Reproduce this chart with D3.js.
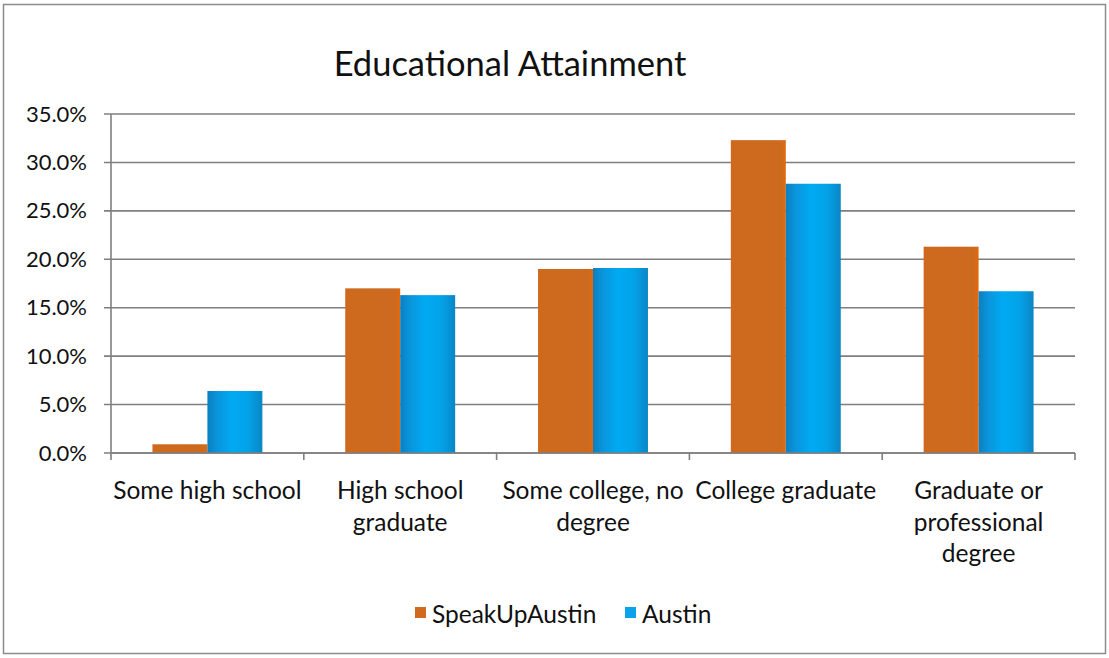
<!DOCTYPE html>
<html>
<head>
<meta charset="utf-8">
<script src="https://cdn.jsdelivr.net/npm/d3@7"></script>
<style>
  html, body { margin: 0; padding: 0; background: #fff; }
  svg { display: block; }
  text { font-family: "Lato", "Open Sans", sans-serif; fill: #111; }
</style>
</head>
<body>
<svg id="chart" width="1109" height="658"></svg>
<script>
// Educational attainment shares, survey respondents vs. city population
const categories = [
  ["Some high school"],
  ["High school", "graduate"],
  ["Some college, no", "degree"],
  ["College graduate"],
  ["Graduate or", "professional", "degree"]
];
const seriesNames = ["SpeakUpAustin", "Austin"];
const speakUpAustin = [0.9, 17.0, 19.0, 32.3, 21.3];
const austin = [6.4, 16.3, 19.1, 27.8, 16.7];
const yTicks = [0, 5, 10, 15, 20, 25, 30, 35];

const svg = d3.select("#chart");
const W = 1109, H = 658;
const m = { left: 111, right: 1075, top: 114, bottom: 453 };

// outer frame
svg.append("rect")
  .attr("x", 3.5).attr("y", 4.5)
  .attr("width", W - 7).attr("height", H - 9)
  .attr("fill", "#fff").attr("stroke", "#8c8c8c").attr("stroke-width", 1.5);

const defs = svg.append("defs");
const blueGrad = defs.append("linearGradient").attr("id", "blueGrad")
  .attr("x1", "0%").attr("x2", "100%").attr("y1", "0%").attr("y2", "0%");
[["0%", "#0b7fbf"], ["18%", "#0a95dc"], ["45%", "#00aaf2"], ["75%", "#03a2e8"], ["100%", "#0a86c6"]]
  .forEach(([o, c]) => blueGrad.append("stop").attr("offset", o).attr("stop-color", c));
const orangeGrad = defs.append("linearGradient").attr("id", "orangeGrad")
  .attr("x1", "0%").attr("x2", "100%").attr("y1", "0%").attr("y2", "0%");
[["0%", "#d4661a"], ["6%", "#cd6a1e"], ["90%", "#cc6a1f"], ["100%", "#e2690d"]]
  .forEach(([o, c]) => orangeGrad.append("stop").attr("offset", o).attr("stop-color", c));

const x = d3.scaleBand().domain(d3.range(categories.length)).range([m.left, m.right]).paddingInner(0).paddingOuter(0);
const inner = d3.scaleBand().domain(seriesNames).range([0, x.bandwidth()]).paddingInner(0).paddingOuter(0.754);
const y = d3.scaleLinear().domain([0, 35]).range([m.bottom, m.top]);

// gridlines
svg.append("g").selectAll("line").data(yTicks).join("line")
  .attr("x1", m.left - 7).attr("x2", m.right)
  .attr("y1", d => y(d)).attr("y2", d => y(d))
  .attr("stroke", "#7f7f7f").attr("stroke-width", 1.6);

// y axis labels
const yAxis = d3.axisLeft(y).tickValues(yTicks).tickSize(0).tickPadding(24)
  .tickFormat(d => d3.format(".1f")(d) + "%");
const gy = svg.append("g").attr("transform", `translate(${m.left},0)`).call(yAxis);
gy.select(".domain").remove();
gy.selectAll("text").attr("font-size", 22).attr("fill", "#111")
  .style("font-family", '"Lato", "Open Sans", sans-serif');

// bars
const series = [speakUpAustin, austin];
const fills = ["url(#orangeGrad)", "url(#blueGrad)"];
series.forEach((vals, si) => {
  svg.append("g").selectAll("rect").data(vals).join("rect")
    .attr("x", (d, i) => x(i) + inner(seriesNames[si]))
    .attr("width", inner.bandwidth())
    .attr("y", d => y(d))
    .attr("height", d => y(0) - y(d))
    .attr("fill", fills[si]);
});

// axis lines
svg.append("line").attr("x1", m.left).attr("x2", m.left).attr("y1", m.top).attr("y2", m.bottom)
  .attr("stroke", "#7f7f7f").attr("stroke-width", 1.6);
svg.append("line").attr("x1", m.left).attr("x2", m.right).attr("y1", m.bottom).attr("y2", m.bottom)
  .attr("stroke", "#7f7f7f").attr("stroke-width", 1.6);

// category boundary ticks
const bounds = d3.range(categories.length + 1).map(i => m.left + i * x.bandwidth());
svg.append("g").selectAll("line").data(bounds).join("line")
  .attr("x1", d => d).attr("x2", d => d)
  .attr("y1", m.bottom).attr("y2", m.bottom + 7)
  .attr("stroke", "#7f7f7f").attr("stroke-width", 1.6);

// category labels
const cat = svg.append("g").selectAll("text").data(categories).join("text")
  .attr("text-anchor", "middle")
  .attr("font-size", 24.5)
  .attr("y", 499);
cat.each(function (lines, i) {
  d3.select(this).selectAll("tspan").data(lines).join("tspan")
    .attr("x", x(i) + x.bandwidth() / 2)
    .attr("dy", (d, j) => j === 0 ? 0 : 31.5)
    .text(d => d);
});

// title
svg.append("text").attr("x", 510).attr("y", 76).attr("text-anchor", "middle")
  .attr("font-size", 34.5).text("Educational Attainment");

// legend
const legendColors = ["#cf6a1e", "#0aa2ea"];
const legendX = [415, 625];
const lg = svg.append("g");
seriesNames.forEach((name, i) => {
  lg.append("rect").attr("x", legendX[i]).attr("y", 607).attr("width", 11).attr("height", 11)
    .attr("fill", legendColors[i]);
  lg.append("text").attr("x", legendX[i] + 17).attr("y", 623).attr("font-size", 24.5).text(name);
});
</script>
</body>
</html>
